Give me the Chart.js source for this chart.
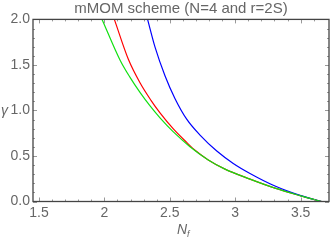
<!DOCTYPE html>
<html>
<head>
<meta charset="utf-8">
<script src="https://cdn.jsdelivr.net/npm/chart.js@4/dist/chart.umd.min.js"></script>
<style>
  html, body { margin: 0; padding: 0; background: #fff; }
  #wrap { width: 332px; height: 240px; }
</style>
</head>
<body>
<div id="wrap"><canvas id="chart"></canvas></div>
<script>
// valores (N_f, gamma)
const greenNf = [1.982, 2.119, 2.196, 2.272, 2.349, 2.425, 2.527, 2.654, 2.794, 2.922, 3.113, 3.304, 3.495, 3.661];
const greenGamma = [2.0, 1.555, 1.363, 1.198, 1.049, 0.918, 0.764, 0.602, 0.457, 0.356, 0.246, 0.147, 0.065, 0.0];

const redNf = [2.076, 2.183, 2.272, 2.356, 2.425, 2.527, 2.629, 2.693, 2.794, 2.922, 3.113, 3.304, 3.495, 3.661];
const redGamma = [2.0, 1.562, 1.304, 1.111, 0.973, 0.797, 0.649, 0.562, 0.457, 0.356, 0.246, 0.147, 0.065, 0.0];

const blueNf = [2.330, 2.387, 2.463, 2.540, 2.629, 2.731, 2.859, 2.985, 3.113, 3.304, 3.495, 3.661];
const blueGamma = [2.0, 1.695, 1.382, 1.129, 0.904, 0.729, 0.554, 0.418, 0.308, 0.170, 0.068, 0.0];

const xTicks = [1.5, 2, 2.5, 3, 3.5];
const yTicks = [0, 0.5, 1.0, 1.5, 2.0];

const FONT = "'Liberation Sans', Arial, sans-serif";
const GRAY = '#666';

const toPoints = (xs, ys) => xs.map((x, i) => ({ x: x, y: ys[i] }));

const line = (label, xs, ys, color) => ({
  label: label,
  data: toPoints(xs, ys),
  showLine: true,
  borderColor: color,
  borderWidth: 1.2,
  pointRadius: 0,
  cubicInterpolationMode: 'monotone',
  fill: false
});

// moldura estilo Mathematica, ticks internos e rótulos dos eixos
const framePlugin = {
  id: 'frame',
  afterDraw(chart) {
    const { ctx, chartArea: a, scales } = chart;
    ctx.save();
    ctx.strokeStyle = '#999';
    ctx.lineWidth = 1;
    const minorX = [];
    for (let v = 1.5; v <= 3.7; v += 0.1) minorX.push(+v.toFixed(2));
    minorX.forEach(v => {
      const px = Math.round(scales.x.getPixelForValue(v)) + 0.5;
      const major = xTicks.includes(v);
      const len = major ? 4 : 2;
      ctx.beginPath();
      ctx.moveTo(px, a.bottom); ctx.lineTo(px, a.bottom - len);
      ctx.moveTo(px, a.top); ctx.lineTo(px, a.top + len);
      ctx.stroke();
    });
    for (let v = 0; v <= 2.001; v += 0.1) {
      const py = Math.round(scales.y.getPixelForValue(v)) + 0.5;
      const major = yTicks.some(t => Math.abs(t - v) < 1e-6);
      const len = major ? 4 : 2;
      ctx.beginPath();
      ctx.moveTo(a.left, py); ctx.lineTo(a.left + len, py);
      ctx.moveTo(a.right, py); ctx.lineTo(a.right - len, py);
      ctx.stroke();
    }
    ctx.strokeStyle = '#444';
    ctx.lineWidth = 1.3;
    ctx.strokeRect(a.left, a.top, a.right - a.left, a.bottom - a.top);

    ctx.fillStyle = GRAY;
    ctx.textBaseline = 'middle';
    ctx.textAlign = 'left';
    ctx.font = 'italic 14px ' + FONT;
    ctx.fillText('γ', 1, scales.y.getPixelForValue(1.0) + 1);

    const cx = (a.left + a.right) / 2 - 4;
    ctx.fillText('N', cx, 230);
    const w = ctx.measureText('N').width;
    ctx.font = 'italic 9px ' + FONT;
    ctx.fillText('f', cx + w, 234);
    ctx.restore();
  }
};

new Chart(document.getElementById('chart'), {
  type: 'scatter',
  data: {
    datasets: [
      line('green', greenNf, greenGamma, '#11e011'),
      line('blue', blueNf, blueGamma, '#0000ff'),
      line('red', redNf, redGamma, '#ff0000')
    ]
  },
  options: {
    responsive: true,
    maintainAspectRatio: false,
    animation: false,
    layout: { padding: { left: 0, right: 3, top: 0, bottom: 0 } },
    plugins: {
      legend: { display: false },
      tooltip: { enabled: false },
      title: {
        display: true,
        text: 'mMOM scheme (N=4 and r=2S)',
        color: GRAY,
        fullSize: false,
        font: { family: FONT, size: 15, weight: 'normal', lineHeight: 1.1 },
        padding: { top: 1, bottom: 1.9 }
      }
    },
    scales: {
      x: {
        type: 'linear',
        min: 1.454,
        max: 3.717,
        grid: { display: false, drawTicks: false },
        border: { display: false },
        afterBuildTicks: (s) => { s.ticks = xTicks.map(v => ({ value: v })); },
        afterFit: (s) => { s.height = 38.5; },
        ticks: {
          color: GRAY,
          padding: 3,
          maxRotation: 0,
          font: { family: FONT, size: 14 },
          callback: (v) => String(v)
        }
      },
      y: {
        type: 'linear',
        min: 0,
        max: 2,
        grid: { display: false, drawTicks: false },
        border: { display: false },
        afterBuildTicks: (s) => { s.ticks = yTicks.map(v => ({ value: v })); },
        afterFit: (s) => { s.width = 33; },
        ticks: {
          color: GRAY,
          padding: 3,
          font: { family: FONT, size: 14 },
          callback: (v) => v.toFixed(1)
        }
      }
    }
  },
  plugins: [framePlugin]
});
</script>
</body>
</html>
